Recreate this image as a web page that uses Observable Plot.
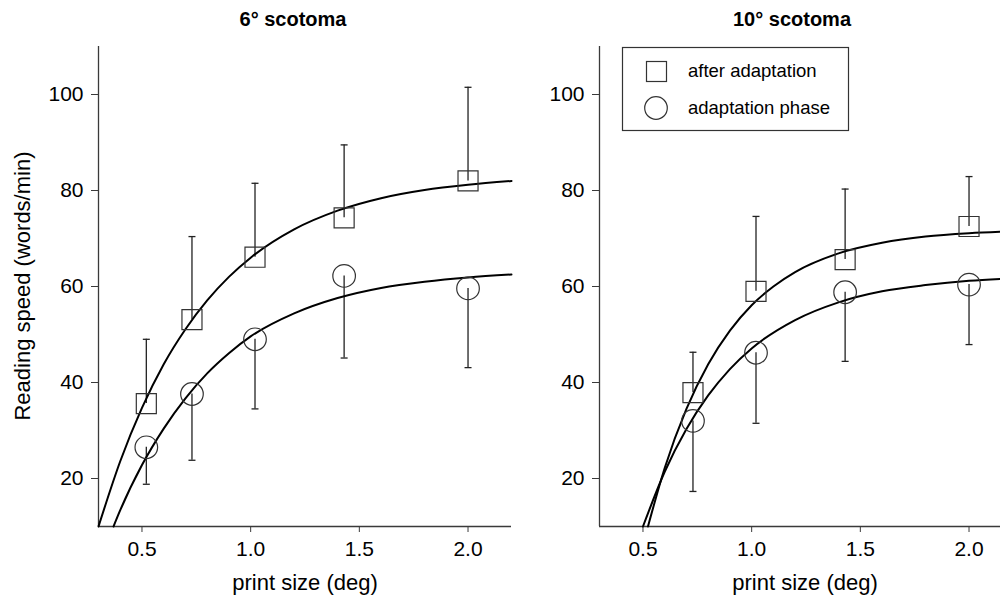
<!DOCTYPE html>
<html>
<head>
<meta charset="utf-8">
<script src="https://cdn.jsdelivr.net/npm/d3@7"></script>
<script src="https://cdn.jsdelivr.net/npm/@observablehq/plot@0.6"></script>
<style>
  html, body { margin: 0; padding: 0; background: #fff; }
  body { width: 1000px; height: 595px; overflow: hidden; position: relative; font-family: "Liberation Sans", Arial, sans-serif; color: #000; }
  .panel { position: absolute; top: 0; }
  .title { position: absolute; font-weight: bold; font-size: 20px; transform: translate(-50%, -50%); white-space: nowrap; }
  .xlabel { position: absolute; font-size: 22px; transform: translate(-50%, -50%); white-space: nowrap; }
  .ylabel { position: absolute; font-size: 22px; transform: translate(-50%, -50%) rotate(-90deg); white-space: nowrap; }
  #legend { position: absolute; left: 0; top: 0; }
</style>
</head>
<body>
<script>
// ---------- data ----------
const titles = ["6° scotoma", "10° scotoma"];
const xLabel = "print size (deg)";
const yLabel = "Reading speed (words/min)";
const legendLabels = ["after adaptation", "adaptation phase"];
const xTicks = [0.5, 1.0, 1.5, 2.0];
const yTicks = [20, 40, 60, 80, 100];

// 6° scotoma
const sizes6 = [0.52, 0.73, 1.02, 1.43, 2.0];
const after6 = [35.6, 53.1, 66.1, 74.3, 82.0];
const after6Upper = [49.0, 70.4, 81.5, 89.5, 101.5];
const phase6 = [26.5, 37.6, 49.0, 62.2, 59.6];
const phase6Lower = [18.8, 23.8, 34.5, 45.1, 43.1];
// fitted curves
const fitAfter6X = [0.3, 0.4, 0.5, 0.6, 0.7, 0.8, 0.9, 1.0, 1.2, 1.4, 1.6, 1.8, 2.0, 2.2];
const fitAfter6Y = [10, 23.6, 34.7, 43.8, 51.1, 57.1, 62.0, 66.0, 71.9, 75.8, 78.4, 80.1, 81.2, 82.0];
const fitPhase6X = [0.369, 0.4, 0.5, 0.6, 0.7, 0.8, 0.9, 1.0, 1.2, 1.4, 1.6, 1.8, 2.0, 2.2];
const fitPhase6Y = [10, 13.4, 22.8, 30.4, 36.7, 41.9, 46.1, 49.6, 54.4, 57.6, 59.7, 61.0, 61.9, 62.5];

// 10° scotoma
const sizes10 = [0.73, 1.02, 1.43, 2.0];
const after10 = [37.9, 59.0, 65.6, 72.5];
const after10Upper = [46.3, 74.6, 80.3, 82.9];
const phase10 = [32.0, 46.2, 58.8, 60.4];
const phase10Lower = [17.3, 31.5, 44.4, 47.9];
const fitAfter10X = [0.523, 0.6, 0.7, 0.8, 0.9, 1.0, 1.1, 1.2, 1.4, 1.6, 1.8, 2.0, 2.2];
const fitAfter10Y = [10, 22.2, 34.5, 43.8, 50.8, 56.1, 60.0, 63.0, 66.9, 69.1, 70.4, 71.1, 71.5];
const fitPhase10X = [0.5, 0.6, 0.7, 0.8, 0.9, 1.0, 1.2, 1.4, 1.6, 1.8, 2.0, 2.2];
const fitPhase10Y = [10, 21.4, 30.3, 37.3, 42.8, 47.1, 53.0, 56.7, 59.0, 60.3, 61.2, 61.7];

// ---------- helpers ----------
const rows = (xs, ys, es) => xs.map((x, i) => ({x, y: ys[i], e: es ? es[i] : null}));
const capSymbol = { draw(ctx) { ctx.moveTo(-3.5, 0); ctx.lineTo(3.5, 0); } };
const axisColor = "#3a3a3a";

function panel(d) {
  const after = rows(d.sizes, d.after, d.afterUpper);
  const phase = rows(d.sizes, d.phase, d.phaseLower);
  return Plot.plot({
    width: d.width, height: 595,
    marginLeft: d.marginLeft, marginRight: d.width - d.marginLeft - 413,
    marginTop: 46, marginBottom: 69,
    x: {domain: [0.3, 2.2]},
    y: {domain: [10, 110]},
    style: {fontFamily: "'Liberation Sans', Arial, sans-serif", fontSize: "21px", color: "#000", background: "transparent", overflow: "visible"},
    marks: [
      Plot.ruleX([0.3], {stroke: axisColor, strokeWidth: 1.3}),
      Plot.ruleY([10], {stroke: axisColor, strokeWidth: 1.3}),
      Plot.axisX(xTicks, {tickFormat: d3.format(".1f"), tickSize: 6, tickPadding: 9, label: null, stroke: axisColor, fontSize: 21}),
      Plot.axisY(yTicks, {tickSize: 7, tickPadding: 8, label: null, stroke: axisColor, fontSize: 21}),
      // error bars
      Plot.ruleX(after, {x: "x", y1: "y", y2: "e", stroke: "#222", strokeWidth: 1.3}),
      Plot.dot(after, {x: "x", y: "e", symbol: capSymbol, r: 4, stroke: "#222", strokeWidth: 1.3}),
      Plot.ruleX(phase, {x: "x", y1: "y", y2: "e", stroke: "#222", strokeWidth: 1.3}),
      Plot.dot(phase, {x: "x", y: "e", symbol: capSymbol, r: 4, stroke: "#222", strokeWidth: 1.3}),
      // fitted curves
      Plot.line(rows(d.fitAfterX, d.fitAfterY), {x: "x", y: "y", curve: "monotone-x", stroke: "#000", strokeWidth: 2}),
      Plot.line(rows(d.fitPhaseX, d.fitPhaseY), {x: "x", y: "y", curve: "monotone-x", stroke: "#000", strokeWidth: 2}),
      // markers
      Plot.dot(after, {x: "x", y: "y", symbol: "square", r: 11.3, stroke: "#333", strokeWidth: 1.2, fill: "none"}),
      Plot.dot(phase, {x: "x", y: "y", symbol: "circle", r: 11.3, stroke: "#333", strokeWidth: 1.2, fill: "none"})
    ]
  });
}

function place(el, left) {
  el.classList.add("panel");
  el.style.left = left + "px";
  document.body.appendChild(el);
}
function addText(cls, text, x, y) {
  const div = document.createElement("div");
  div.className = cls;
  div.textContent = text;
  div.style.left = x + "px";
  div.style.top = y + "px";
  document.body.appendChild(div);
}

place(panel({width: 520, marginLeft: 98, sizes: sizes6, after: after6, afterUpper: after6Upper, phase: phase6, phaseLower: phase6Lower,
  fitAfterX: fitAfter6X, fitAfterY: fitAfter6Y, fitPhaseX: fitPhase6X, fitPhaseY: fitPhase6Y}), 0);
place(panel({width: 521, marginLeft: 99, sizes: sizes10, after: after10, afterUpper: after10Upper, phase: phase10, phaseLower: phase10Lower,
  fitAfterX: fitAfter10X, fitAfterY: fitAfter10Y, fitPhaseX: fitPhase10X, fitPhaseY: fitPhase10Y}), 500);

addText("title", titles[0], 293, 19);
addText("title", titles[1], 792, 19);
addText("xlabel", xLabel, 305, 583);
addText("xlabel", xLabel, 805, 583);
addText("ylabel", yLabel, 23, 286);

// legend
const lg = d3.select("body").append("svg").attr("id", "legend").attr("width", 1000).attr("height", 595);
lg.append("rect").attr("x", 622.5).attr("y", 47.5).attr("width", 226).attr("height", 83)
  .attr("fill", "#fff").attr("stroke", "#333").attr("stroke-width", 1.2);
lg.append("rect").attr("x", 646.5).attr("y", 61.5).attr("width", 20).attr("height", 20)
  .attr("fill", "none").attr("stroke", "#333").attr("stroke-width", 1.2);
lg.append("circle").attr("cx", 656).attr("cy", 108).attr("r", 11.3)
  .attr("fill", "none").attr("stroke", "#333").attr("stroke-width", 1.2);
lg.selectAll("text.l").data(legendLabels).join("text")
  .attr("x", 688).attr("y", (d, i) => [77, 114][i])
  .attr("font-family", "'Liberation Sans', Arial, sans-serif").attr("font-size", 18.5)
  .text(d => d);
</script>
</body>
</html>
